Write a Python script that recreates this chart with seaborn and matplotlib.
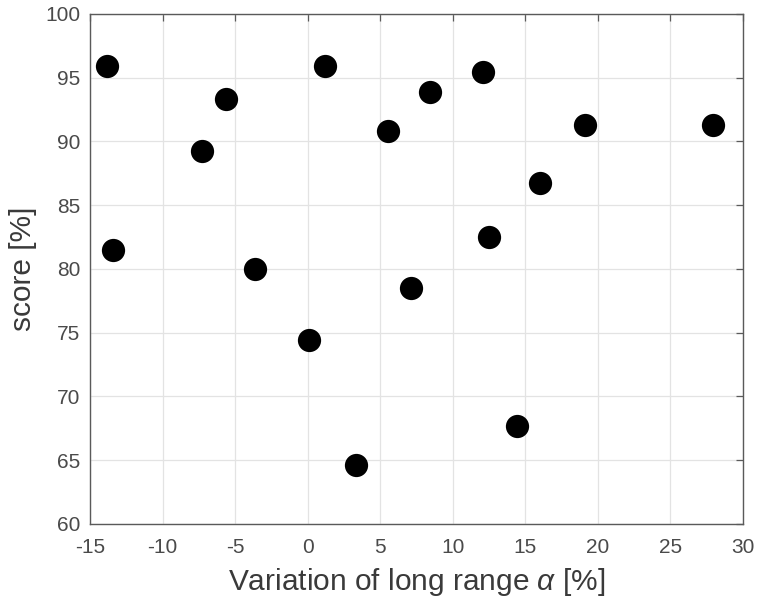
import numpy as np
import pandas as pd
import matplotlib
matplotlib.use("Agg")
import matplotlib.pyplot as plt
import seaborn as sns

# values
alpha_var = [-13.8, -13.4, -7.3, -5.6, -3.6, 0.1, 1.2, 3.3, 5.5, 7.1,
             8.4, 12.1, 12.5, 14.4, 16.0, 19.1, 27.9]
score = [95.9, 81.5, 89.2, 93.3, 80.0, 74.4, 95.9, 64.6, 90.8, 78.5,
         93.9, 95.4, 82.5, 67.7, 86.7, 91.3, 91.3]

x_ticks = [-15, -10, -5, 0, 5, 10, 15, 20, 25, 30]
y_ticks = [60, 65, 70, 75, 80, 85, 90, 95, 100]

df = pd.DataFrame({"alpha": alpha_var, "score": score})

sns.set_theme(style="white")
plt.rcParams["font.family"] = ["Liberation Sans", "DejaVu Sans"]
plt.rcParams["axes.unicode_minus"] = False
plt.rcParams["mathtext.fontset"] = "custom"
plt.rcParams["mathtext.it"] = "Liberation Sans:italic"

fig = plt.figure(figsize=(7.57, 6.0), dpi=100)
ax = fig.add_axes([0.119, 0.127, 0.8625, 0.85])

sns.scatterplot(data=df, x="alpha", y="score", ax=ax, color="black",
                s=280, edgecolor="black", linewidth=0, zorder=3, legend=False)

ax.set_xlim(-15, 30)
ax.set_ylim(60, 100)
ax.set_xticks(x_ticks)
ax.set_yticks(y_ticks)
ax.grid(True, color="#e3e3e3", linewidth=0.9)
ax.set_axisbelow(True)

for sp in ax.spines.values():
    sp.set_color("#5a5a5a")
    sp.set_linewidth(1.0)

ax.tick_params(direction="in", length=5, width=0.9, colors="#5a5a5a",
               labelsize=15, labelcolor="#4a4a4a", top=True, right=True,
               labeltop=False, labelright=False, pad=7)
ax.tick_params(axis="x", pad=10)

ax.set_xlabel(r"Variation of long range $\alpha$ [%]", fontsize=21.5,
              color="#3a3a3a", labelpad=7)
ax.set_ylabel("score [%]", fontsize=21.5, color="#3a3a3a", labelpad=6)

fig.savefig("out.png", dpi=100)
